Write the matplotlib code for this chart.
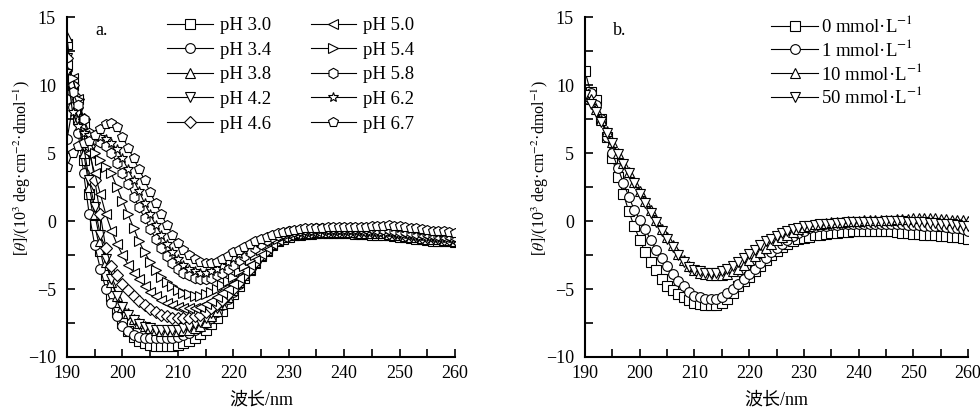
import matplotlib
matplotlib.use("Agg")
import matplotlib.pyplot as plt
from matplotlib.ticker import MultipleLocator

plt.rcParams["font.family"] = ["Liberation Serif", "Noto Sans CJK SC"]
plt.rcParams["mathtext.fontset"] = "stix"
plt.rcParams["axes.unicode_minus"] = True

# Wavelength, nm
wavelength = list(range(190, 261))

# Panel a: different pH
ph_labels = ["pH 3.0", "pH 3.4", "pH 3.8", "pH 4.2", "pH 4.6",
             "pH 5.0", "pH 5.4", "pH 5.8", "pH 6.2", "pH 6.7"]

ph30 = [13.0, 10.0, 7.5, 4.5, 2.0, -0.3, -2.2, -4.0, -5.5, -6.7,
        -7.5, -8.1, -8.5, -8.8, -9.0, -9.1, -9.2, -9.2, -9.2, -9.2,
        -9.1, -9.0, -8.8, -8.6, -8.3, -8.0, -7.6, -7.1, -6.6, -6.0,
        -5.4, -4.8, -4.2, -3.6, -3.1, -2.6, -2.2, -1.8, -1.5, -1.3,
        -1.15, -1.05, -1.0, -0.95, -0.95, -0.9, -0.9, -0.9, -0.9, -0.9,
        -0.9, -0.9, -0.95, -0.95, -0.95, -1.0, -1.0, -1.0, -1.05, -1.1,
        -1.15, -1.2, -1.25, -1.3, -1.35, -1.4, -1.45, -1.45, -1.5, -1.5,
        -1.55]
ph34 = [6.0, 8.4, 6.5, 3.5, 0.5, -1.8, -3.5, -5.0, -6.0, -7.0,
        -7.7, -8.1, -8.4, -8.5, -8.6, -8.6, -8.6, -8.6, -8.6, -8.6,
        -8.5, -8.4, -8.2, -8.0, -7.8, -7.5, -7.1, -6.7, -6.2, -5.7,
        -5.2, -4.6, -4.0, -3.5, -3.0, -2.5, -2.1, -1.7, -1.4, -1.2,
        -1.05, -0.95, -0.9, -0.9, -0.85, -0.85, -0.85, -0.8, -0.8, -0.8,
        -0.8, -0.8, -0.85, -0.85, -0.85, -0.9, -0.9, -0.9, -0.95, -1.0,
        -1.05, -1.1, -1.15, -1.2, -1.25, -1.3, -1.35, -1.35, -1.4, -1.4,
        -1.45]
ph38 = [13.5, 10.0, 7.5, 5.0, 2.5, 0.5, -1.5, -3.0, -4.5, -5.5,
        -6.3, -6.8, -7.2, -7.5, -7.7, -7.9, -8.0, -8.1, -8.1, -8.1,
        -8.1, -8.0, -8.0, -7.9, -7.7, -7.4, -7.0, -6.6, -6.1, -5.6,
        -5.1, -4.5, -4.0, -3.5, -3.0, -2.5, -2.1, -1.7, -1.4, -1.2,
        -1.05, -0.95, -0.9, -0.85, -0.85, -0.8, -0.8, -0.8, -0.8, -0.8,
        -0.8, -0.8, -0.8, -0.85, -0.85, -0.85, -0.9, -0.9, -0.95, -1.0,
        -1.05, -1.1, -1.15, -1.2, -1.25, -1.3, -1.3, -1.35, -1.4, -1.4,
        -1.45]
ph42 = [12.0, 10.0, 8.0, 5.5, 3.0, 1.0, -1.0, -2.8, -4.3, -5.5,
        -6.3, -6.9, -7.3, -7.6, -7.8, -7.9, -8.0, -8.0, -8.0, -8.0,
        -8.0, -7.9, -7.8, -7.6, -7.4, -7.1, -6.8, -6.4, -6.0, -5.6,
        -5.1, -4.6, -4.1, -3.6, -3.1, -2.6, -2.2, -1.8, -1.5, -1.25,
        -1.1, -1.0, -0.9, -0.85, -0.85, -0.8, -0.8, -0.75, -0.75, -0.75,
        -0.75, -0.75, -0.8, -0.8, -0.8, -0.85, -0.85, -0.85, -0.9, -0.95,
        -1.0, -1.05, -1.1, -1.15, -1.2, -1.25, -1.25, -1.3, -1.35, -1.35,
        -1.4]
ph46 = [12.0, 10.0, 9.0, 7.5, 5.5, 3.0, 0.5, -2.0, -3.3, -4.0,
        -4.6, -5.1, -5.5, -5.9, -6.2, -6.5, -6.7, -6.9, -7.0, -7.1,
        -7.15, -7.15, -7.1, -7.0, -6.9, -6.7, -6.4, -6.1, -5.8, -5.4,
        -5.0, -4.5, -4.0, -3.5, -3.0, -2.5, -2.1, -1.7, -1.4, -1.2,
        -1.0, -0.9, -0.85, -0.8, -0.8, -0.75, -0.75, -0.7, -0.7, -0.7,
        -0.7, -0.7, -0.7, -0.75, -0.75, -0.75, -0.8, -0.8, -0.85, -0.9,
        -0.95, -1.0, -1.05, -1.1, -1.15, -1.2, -1.2, -1.25, -1.3, -1.3,
        -1.35]
ph50 = [11.5, 10.5, 9.0, 7.0, 5.0, 3.5, 2.0, 0.5, -0.7, -1.7,
        -2.5, -3.2, -3.8, -4.3, -4.8, -5.2, -5.5, -5.8, -6.0, -6.2,
        -6.3, -6.4, -6.4, -6.4, -6.3, -6.1, -5.9, -5.6, -5.3, -5.0,
        -4.6, -4.2, -3.7, -3.2, -2.8, -2.4, -2.0, -1.7, -1.4, -1.15,
        -1.0, -0.9, -0.8, -0.75, -0.7, -0.7, -0.65, -0.65, -0.65, -0.65,
        -0.65, -0.65, -0.65, -0.7, -0.7, -0.7, -0.75, -0.75, -0.8, -0.85,
        -0.9, -0.95, -1.0, -1.05, -1.1, -1.1, -1.15, -1.2, -1.2, -1.25,
        -1.3]
ph54 = [11.0, 10.5, 9.0, 7.5, 6.0, 5.0, 4.5, 4.0, 3.5, 2.5,
        1.5, 0.5, -0.5, -1.5, -2.3, -3.0, -3.6, -4.1, -4.5, -4.8,
        -5.1, -5.3, -5.4, -5.5, -5.5, -5.4, -5.2, -5.0, -4.7, -4.4,
        -4.1, -3.7, -3.3, -2.9, -2.5, -2.1, -1.8, -1.5, -1.3, -1.1,
        -0.95, -0.85, -0.75, -0.7, -0.65, -0.65, -0.6, -0.6, -0.6, -0.6,
        -0.6, -0.6, -0.6, -0.6, -0.65, -0.65, -0.65, -0.7, -0.7, -0.75,
        -0.8, -0.85, -0.9, -0.95, -1.0, -1.0, -1.05, -1.1, -1.1, -1.15,
        -1.2]
ph58 = [9.0, 9.5, 8.5, 7.5, 6.5, 6.0, 5.8, 5.5, 5.0, 4.3,
        3.5, 2.7, 1.8, 1.0, 0.2, -0.6, -1.3, -2.0, -2.6, -3.1,
        -3.5, -3.8, -4.0, -4.2, -4.3, -4.3, -4.2, -4.0, -3.8, -3.5,
        -3.2, -2.9, -2.6, -2.3, -2.0, -1.7, -1.4, -1.2, -1.0, -0.85,
        -0.75, -0.7, -0.65, -0.6, -0.6, -0.55, -0.55, -0.55, -0.55, -0.55,
        -0.5, -0.5, -0.5, -0.55, -0.55, -0.55, -0.6, -0.6, -0.6, -0.65,
        -0.7, -0.75, -0.8, -0.85, -0.9, -0.9, -0.95, -1.0, -1.0, -1.05,
        -1.1]
ph62 = [11.0, 8.0, 7.0, 6.5, 6.3, 6.2, 6.2, 6.0, 5.7, 5.3,
        4.6, 3.8, 3.0, 2.2, 1.3, 0.5, -0.3, -1.0, -1.7, -2.3,
        -2.8, -3.2, -3.5, -3.7, -3.8, -3.8, -3.7, -3.5, -3.3, -3.0,
        -2.7, -2.4, -2.1, -1.8, -1.6, -1.4, -1.2, -1.0, -0.9, -0.8,
        -0.7, -0.65, -0.6, -0.55, -0.55, -0.5, -0.5, -0.5, -0.5, -0.5,
        -0.45, -0.45, -0.45, -0.45, -0.45, -0.45, -0.45, -0.4, -0.4, -0.45,
        -0.5, -0.55, -0.6, -0.65, -0.7, -0.75, -0.8, -0.85, -0.85, -0.9,
        -0.95]
ph67 = [4.0, 5.0, 5.5, 5.7, 5.9, 6.3, 6.8, 7.1, 7.2, 6.9,
        6.2, 5.4, 4.6, 3.8, 3.0, 2.1, 1.3, 0.5, -0.3, -1.0,
        -1.6, -2.1, -2.5, -2.8, -3.0, -3.1, -3.1, -3.0, -2.8, -2.6,
        -2.3, -2.1, -1.9, -1.7, -1.5, -1.3, -1.2, -1.0, -0.9, -0.8,
        -0.7, -0.65, -0.6, -0.55, -0.5, -0.5, -0.5, -0.45, -0.45, -0.45,
        -0.45, -0.45, -0.45, -0.45, -0.45, -0.4, -0.4, -0.35, -0.3, -0.35,
        -0.4, -0.45, -0.5, -0.55, -0.6, -0.65, -0.7, -0.7, -0.75, -0.8,
        -0.85]

# Panel b: different concentrations
conc_labels = ["0 mmol·L$^{-1}$", "1 mmol·L$^{-1}$",
               "10 mmol·L$^{-1}$", "50 mmol·L$^{-1}$"]

c0 = [11.0, 9.5, 8.9, 7.5, 6.2, 4.6, 3.2, 2.0, 0.7, -0.4,
      -1.4, -2.3, -3.0, -3.6, -4.3, -4.8, -5.1, -5.4, -5.6, -5.8,
      -6.0, -6.1, -6.2, -6.2, -6.2, -6.0, -5.7, -5.3, -4.8, -4.4,
      -4.1, -3.7, -3.3, -2.9, -2.5, -2.2, -1.9, -1.7, -1.5, -1.35,
      -1.25, -1.15, -1.05, -1.0, -0.95, -0.9, -0.85, -0.8, -0.8, -0.75,
      -0.75, -0.75, -0.7, -0.7, -0.7, -0.75, -0.75, -0.8, -0.85, -0.9,
      -0.95, -0.95, -1.0, -1.0, -1.05, -1.1, -1.1, -1.15, -1.2, -1.25,
      -1.3]
c1 = [9.0, 9.4, 8.5, 7.5, 6.2, 5.0, 3.9, 2.8, 1.8, 0.8,
      0.1, -0.6, -1.4, -2.1, -2.7, -3.3, -3.9, -4.4, -4.8, -5.2,
      -5.5, -5.6, -5.7, -5.75, -5.7, -5.6, -5.3, -5.0, -4.6, -4.3,
      -3.9, -3.5, -3.1, -2.7, -2.3, -2.0, -1.7, -1.4, -1.1, -0.9,
      -0.7, -0.55, -0.45, -0.4, -0.35, -0.3, -0.3, -0.25, -0.25, -0.2,
      -0.2, -0.2, -0.2, -0.2, -0.2, -0.2, -0.25, -0.25, -0.25, -0.3,
      -0.3, -0.3, -0.35, -0.35, -0.4, -0.4, -0.45, -0.5, -0.55, -0.6,
      -0.7]
c10 = [9.2, 9.0, 8.2, 7.4, 6.6, 5.8, 5.0, 4.3, 3.6, 2.9,
       2.2, 1.5, 0.8, 0.1, -0.6, -1.2, -1.8, -2.4, -2.9, -3.3,
       -3.6, -3.8, -3.9, -4.0, -4.0, -4.0, -3.9, -3.7, -3.5, -3.2,
       -2.9, -2.6, -2.3, -2.0, -1.7, -1.4, -1.2, -1.0, -0.8, -0.6,
       -0.45, -0.35, -0.25, -0.2, -0.15, -0.1, -0.05, -0.05, 0.0, 0.0,
       0.0, 0.05, 0.05, 0.1, 0.1, 0.1, 0.1, 0.15, 0.15, 0.15,
       0.2, 0.2, 0.2, 0.2, 0.2, 0.15, 0.15, 0.1, 0.1, 0.05,
       0.0]
c50 = [9.3, 8.6, 8.0, 7.3, 6.5, 5.7, 4.9, 4.2, 3.5, 2.8,
       2.0, 1.3, 0.6, -0.1, -0.7, -1.3, -1.9, -2.5, -3.0, -3.4,
       -3.6, -3.7, -3.8, -3.8, -3.8, -3.7, -3.5, -3.3, -3.0, -2.7,
       -2.4, -2.1, -1.8, -1.5, -1.3, -1.1, -0.9, -0.75, -0.6, -0.5,
       -0.4, -0.35, -0.3, -0.25, -0.2, -0.2, -0.15, -0.15, -0.1, -0.1,
       -0.1, -0.1, -0.05, -0.05, -0.05, 0.0, 0.0, 0.0, 0.0, -0.05,
       -0.05, -0.1, -0.1, -0.15, -0.15, -0.2, -0.2, -0.25, -0.3, -0.35,
       -0.4]

ph_series = [ph30, ph34, ph38, ph42, ph46, ph50, ph54, ph58, ph62, ph67]
ph_markers = ["s", "o", "^", "v", "D", "<", ">", "h", "*", "p"]
conc_series = [c0, c1, c10, c50]
conc_markers = ["s", "o", "^", "v"]

ylabel = r"[$\theta$]/(10$^3$ deg·cm$^{-2}$·dmol$^{-1}$)"


def style_axis(ax, tag):
    ax.set_xlim(190, 260)
    ax.set_ylim(-10, 15)
    ax.xaxis.set_major_locator(MultipleLocator(10))
    ax.xaxis.set_minor_locator(MultipleLocator(5))
    ax.yaxis.set_major_locator(MultipleLocator(5))
    ax.yaxis.set_minor_locator(MultipleLocator(2.5))
    ax.tick_params(which="both", direction="in", width=1.2, labelsize=13,
                   top=False, right=False, length=6)
    ax.tick_params(axis="x", pad=6)
    ax.tick_params(axis="y", pad=8)
    for side in ["top", "right"]:
        ax.spines[side].set_visible(False)
    for side in ["left", "bottom"]:
        ax.spines[side].set_linewidth(1.5)
    ax.set_ylabel(ylabel, fontsize=11.5)
    ax.yaxis.set_label_coords(-0.088, 0.555)
    ax.set_xlabel("波长/nm", fontsize=13)
    ax.xaxis.set_label_coords(0.5, -0.103)
    ax.text(0.072, 0.985, tag, transform=ax.transAxes, fontsize=13,
            ha="left", va="top")


fig = plt.figure(figsize=(9.8, 4.13), dpi=100)
ax1 = fig.add_axes([0.0684, 0.1356, 0.3959, 0.8232])
ax2 = fig.add_axes([0.597, 0.1356, 0.3908, 0.8232])

for ys, m, lab in zip(ph_series, ph_markers, ph_labels):
    ms = 7.5 if m in ("*", "p", "h") else (6 if m == "D" else 7)
    ax1.plot(wavelength, ys, color="k", lw=0.8, marker=m, ms=ms,
             mfc="white", mec="k", mew=0.8, label=lab)

for ys, m, lab in zip(conc_series, conc_markers, conc_labels):
    ax2.plot(wavelength, ys, color="k", lw=0.8, marker=m, ms=7,
             mfc="white", mec="k", mew=0.8, label=lab)

style_axis(ax1, "a.")
style_axis(ax2, "b.")

ax1.legend(ncol=2, loc="upper left", bbox_to_anchor=(0.258, 1.0),
           frameon=False, fontsize=13.5, handlelength=2.45, handletextpad=0.37,
           columnspacing=2.1, labelspacing=0.4, borderpad=0, borderaxespad=0)
ax2.legend(ncol=1, loc="upper left", bbox_to_anchor=(0.486, 1.005),
           frameon=False, fontsize=13.5, handlelength=2.5, handletextpad=0.15,
           labelspacing=0.14, borderpad=0, borderaxespad=0)

fig.savefig("out.png", dpi=100)
